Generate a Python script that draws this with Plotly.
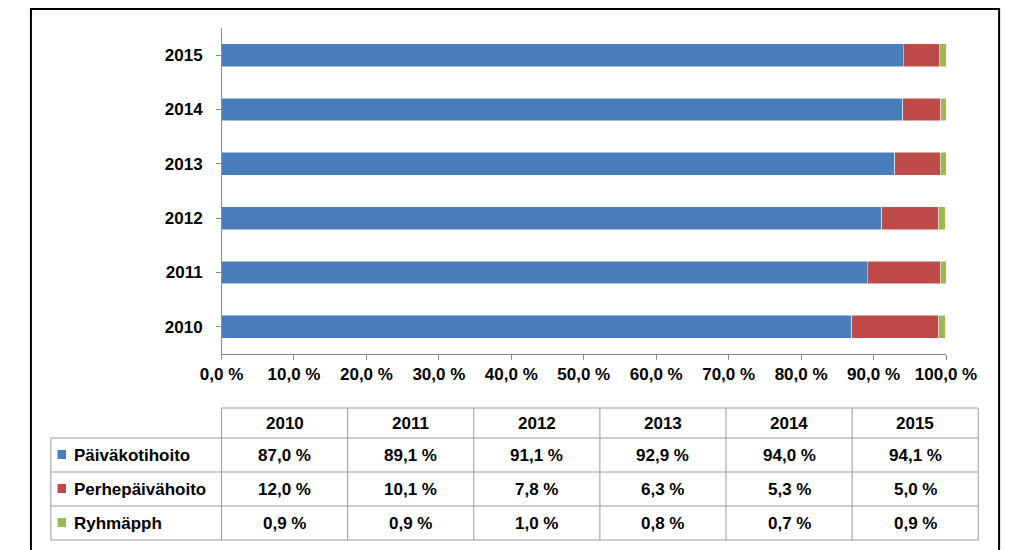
import plotly.graph_objects as go

years = ["2010", "2011", "2012", "2013", "2014", "2015"]
paivakoti = [87.0, 89.1, 91.1, 92.9, 94.0, 94.1]
perhe = [12.0, 10.1, 7.8, 6.3, 5.3, 5.0]
ryhma = [0.9, 0.9, 1.0, 0.8, 0.7, 0.9]
series_names = ["Päiväkotihoito", "Perhepäivähoito", "Ryhmäpph"]
colors = ["#4A7EBB", "#BE4B48", "#98B954"]
tick_vals = [0, 10, 20, 30, 40, 50, 60, 70, 80, 90, 100]
tick_text = [("<b>%.1f %%</b>" % v).replace(".", ",") for v in tick_vals]

W, H = 1024, 550
FONT = "Liberation Sans"


def px(x):
    return x / W


def py(y):
    return 1 - y / H


def fmt(v):
    return ("<b>%.1f %%</b>" % v).replace(".", ",")


fig = go.Figure()
for name, vals, c in zip(series_names, [paivakoti, perhe, ryhma], colors):
    fig.add_trace(go.Bar(
        y=years, x=vals, orientation="h", name=name,
        marker=dict(color=c, line=dict(color="white", width=0.5)),
        width=0.42, showlegend=False,
    ))

shapes = []
annotations = []
shapes.append(dict(type="rect", xref="paper", yref="paper",
                   x0=px(1), x1=px(1022), y0=py(548), y1=py(1),
                   line=dict(color="black", width=2)))

col_edges = [202, 335, 468, 601, 734, 867, 1000]
row_edges = [400, 430, 464, 498, 532]
line_style = dict(color="#9A9A9A", width=1)
shapes.append(dict(type="line", xref="paper", yref="paper", x0=px(202), x1=px(1000),
                   y0=py(400), y1=py(400), line=line_style))
for r in row_edges[1:]:
    shapes.append(dict(type="line", xref="paper", yref="paper", x0=px(22), x1=px(1000),
                       y0=py(r), y1=py(r), line=line_style))
shapes.append(dict(type="line", xref="paper", yref="paper", x0=px(22), x1=px(22),
                   y0=py(430), y1=py(532), line=line_style))
for c in col_edges:
    shapes.append(dict(type="line", xref="paper", yref="paper", x0=px(c), x1=px(c),
                       y0=py(400), y1=py(532), line=line_style))

cell_font = dict(size=17, family=FONT, color="black")
for i, yr in enumerate(years):
    cx = (col_edges[i] + col_edges[i + 1]) / 2
    annotations.append(dict(x=px(cx), y=py(415), xref="paper", yref="paper", text="<b>%s</b>" % yr,
                            xanchor="center", yanchor="middle", showarrow=False, font=cell_font))
    for j, vals in enumerate([paivakoti, perhe, ryhma]):
        cy = (row_edges[j + 1] + row_edges[j + 2]) / 2
        annotations.append(dict(x=px(cx), y=py(cy), xref="paper", yref="paper", text=fmt(vals[i]),
                                xanchor="center", yanchor="middle", showarrow=False, font=cell_font))

for j, (name, c) in enumerate(zip(series_names, colors)):
    cy = (row_edges[j + 1] + row_edges[j + 2]) / 2
    shapes.append(dict(type="rect", xref="paper", yref="paper",
                       x0=px(29), x1=px(38), y0=py(cy + 4), y1=py(cy - 5),
                       fillcolor=c, line=dict(color=c, width=0)))
    annotations.append(dict(x=px(44), y=py(cy), xref="paper", yref="paper", text="<b>%s</b>" % name,
                            xanchor="left", yanchor="middle", showarrow=False, font=cell_font))

fig.update_layout(
    width=W, height=H, barmode="stack", bargap=0.58,
    margin=dict(l=0, r=0, t=0, b=0),
    plot_bgcolor="white", paper_bgcolor="white",
    font=dict(family=FONT, size=17, color="black"),
    xaxis=dict(domain=[px(202), px(966)], range=[0, 100], tickvals=tick_vals, ticktext=tick_text,
               showgrid=False, showline=True, linecolor="#8C8C8C", ticks="outside",
               ticklen=5, tickcolor="#8C8C8C", tickfont=dict(size=17, family=FONT), zeroline=False),
    yaxis=dict(domain=[py(346), py(20)], showgrid=False, showline=True, linecolor="#8C8C8C",
               ticks="outside", ticklen=5, tickcolor="#8C8C8C",
               tickvals=years, ticktext=["<b>%s</b>  " % y for y in years],
               tickfont=dict(size=17, family=FONT)),
    shapes=shapes, annotations=annotations,
)

fig.write_html("out.html")
